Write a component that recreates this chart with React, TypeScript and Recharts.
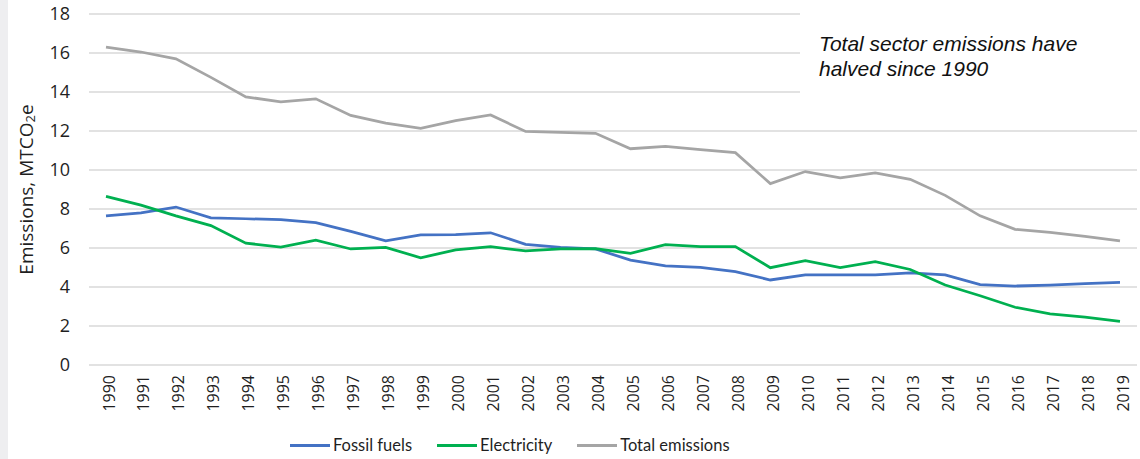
import { LineChart, Line, XAxis, YAxis, CartesianGrid, Legend } from "recharts";

const years = [
  "1990", "1991", "1992", "1993", "1994", "1995", "1996", "1997", "1998", "1999",
  "2000", "2001", "2002", "2003", "2004", "2005", "2006", "2007", "2008", "2009",
  "2010", "2011", "2012", "2013", "2014", "2015", "2016", "2017", "2018", "2019",
];

const fossilFuels = [
  7.65, 7.8, 8.1, 7.55, 7.5, 7.45, 7.3, 6.85, 6.37, 6.67,
  6.68, 6.78, 6.19, 6.03, 5.95, 5.38, 5.08, 5.01, 4.79, 4.36,
  4.62, 4.62, 4.62, 4.72, 4.62, 4.12, 4.05, 4.1, 4.17, 4.24,
];

const electricity = [
  8.65, 8.2, 7.65, 7.15, 6.25, 6.05, 6.4, 5.95, 6.03, 5.5,
  5.9, 6.07, 5.85, 5.95, 5.97, 5.73, 6.17, 6.07, 6.07, 4.99,
  5.35, 5.0, 5.3, 4.9, 4.1, 3.55, 2.96, 2.62, 2.45, 2.24,
];

const totalEmissions = [
  16.3, 16.05, 15.7, 14.75, 13.75, 13.5, 13.65, 12.8, 12.4, 12.14,
  12.53, 12.82, 11.98, 11.93, 11.88, 11.09, 11.21, 11.04, 10.89, 9.3,
  9.92, 9.6, 9.85, 9.52, 8.7, 7.65, 6.96, 6.8, 6.6, 6.37,
];

const yTicks = [0, 2, 4, 6, 8, 10, 12, 14, 16, 18];

const series = [
  { key: "fossil", name: "Fossil fuels", color: "#4472c4" },
  { key: "electricity", name: "Electricity", color: "#00b050" },
  { key: "total", name: "Total emissions", color: "#a5a5a5" },
];

const data = years.map((year, i) => ({
  year,
  fossil: fossilFuels[i],
  electricity: electricity[i],
  total: totalEmissions[i],
}));

const TEXT = "#1f1f1f";

function YearTick({ x, y, payload }: any) {
  return (
    <text
      transform={`translate(${x},${y}) rotate(-90)`}
      textAnchor="end"
      dy={8.5}
      fontFamily="Open Sans"
      fontSize={16}
      fill={TEXT}
    >
      {payload.value}
    </text>
  );
}

function YLabel({ viewBox }: any) {
  const cy = viewBox.y + viewBox.height / 2;
  return (
    <text
      transform={`translate(26,${cy}) rotate(-90)`}
      textAnchor="middle"
      dominantBaseline="central"
      fontFamily="Open Sans"
      fontSize={19}
      fill={TEXT}
    >
      Emissions, MTCO
      <tspan dy={4} fontSize={13}>2</tspan>
      <tspan dy={-4}>e</tspan>
    </text>
  );
}

// own order, the payload comes back sorted
function LegendContent() {
  return (
    <div style={{ display: "flex", alignItems: "center" }}>
      {series.map((s) => (
        <div
          key={s.key}
          style={{ display: "flex", alignItems: "center", marginRight: 25 }}
        >
          <span
            style={{ width: 40, height: 3, background: s.color, display: "inline-block" }}
          />
          <span
            style={{
              marginLeft: 3,
              fontFamily: "Lato",
              fontSize: 16.5,
              color: TEXT,
              whiteSpace: "nowrap",
            }}
          >
            {s.name}
          </span>
        </div>
      ))}
    </div>
  );
}

export default function App() {
  return (
    <div
      style={{
        position: "fixed",
        left: 0,
        top: 0,
        width: 1140,
        height: 459,
        background: "#fff",
        overflow: "hidden",
      }}
    >
      <div
        style={{
          position: "absolute",
          left: 0,
          top: 0,
          width: 8,
          height: 459,
          background: "#eeeef0",
        }}
      />
      <LineChart
        width={1140}
        height={459}
        data={data}
        margin={{ top: 14, right: 3, bottom: 0, left: 29 }}
      >
        <CartesianGrid vertical={false} stroke="#d9d9d9" strokeWidth={1.5} />
        <XAxis
          dataKey="year"
          height={94}
          padding={{ left: 17, right: 17 }}
          axisLine={false}
          tickLine={false}
          tickSize={0}
          tickMargin={10}
          interval={0}
          tick={<YearTick />}
        />
        <YAxis
          width={60}
          domain={[0, 18]}
          ticks={yTicks}
          axisLine={false}
          tickLine={false}
          tickSize={0}
          tickMargin={19}
          tick={{ fontFamily: "Open Sans", fontSize: 18, fill: TEXT }}
          label={<YLabel />}
        />
        <Legend
          verticalAlign="middle"
          align="center"
          wrapperStyle={{ left: 290, top: 435, width: "auto", height: 24 }}
          content={<LegendContent />}
        />
        {series.map((s) => (
          <Line
            key={s.key}
            type="linear"
            dataKey={s.key}
            name={s.name}
            stroke={s.color}
            strokeWidth={2.75}
            dot={false}
            isAnimationActive={false}
          />
        ))}
      </LineChart>
      <div
        style={{
          position: "absolute",
          left: 800,
          top: 2,
          width: 340,
          height: 110,
          background: "#fff",
        }}
      >
        <div
          style={{
            position: "absolute",
            left: 19,
            top: 29,
            fontFamily: "Liberation Sans",
            fontStyle: "italic",
            fontSize: 21,
            lineHeight: "25px",
            color: "#111",
            whiteSpace: "nowrap",
          }}
        >
          Total sector emissions have
          <br />
          halved since 1990
        </div>
      </div>
    </div>
  );
}
